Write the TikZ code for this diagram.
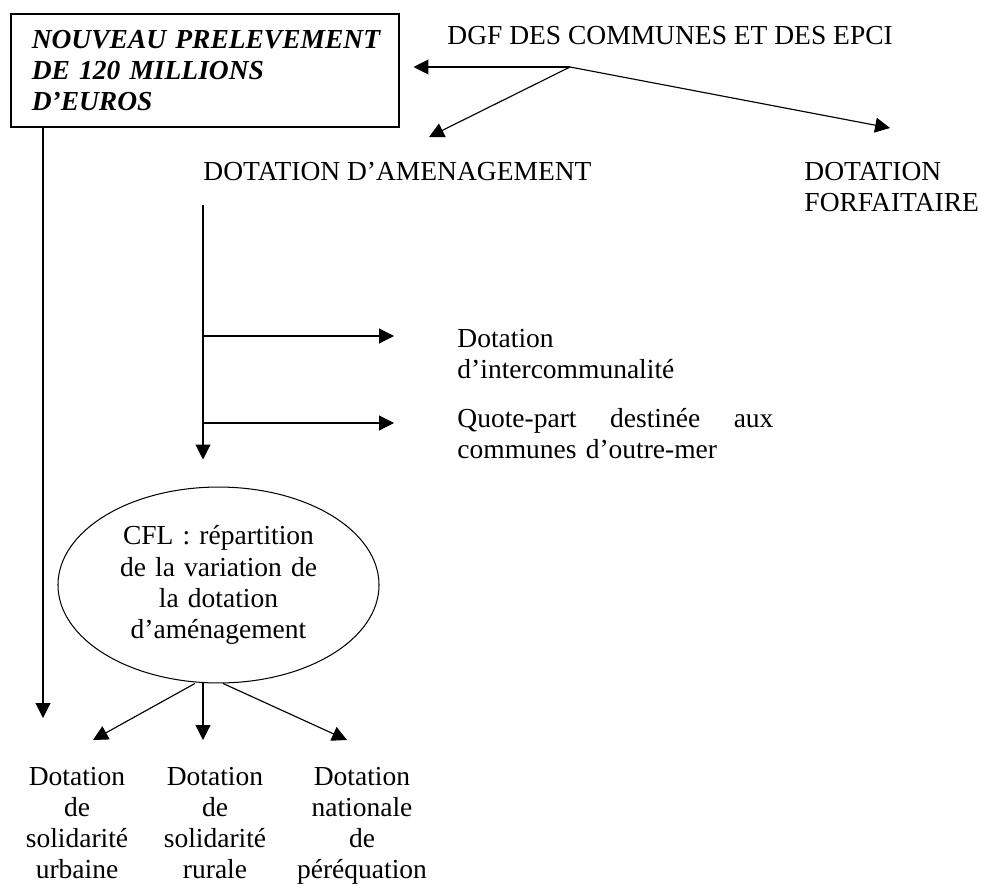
\documentclass[tikz,border=0pt]{standalone}
\usepackage{fontspec}
\setmainfont{Liberation Serif}
\usetikzlibrary{arrows.meta,shapes.geometric}

\newcommand{\bodysize}{\fontsize{12}{13.6}\selectfont}

\tikzstyle{bigbox}=[
    draw,
    line width=0.7pt,
    inner sep=0pt,
    minimum width=169.3pt,
    minimum height=49.3pt,
    text width=151pt,
    align=left,
    font=\bodysize\bfseries\itshape,
  ]
\tikzstyle{txt}=[
    inner sep=0pt,
    anchor=base west,
    font=\bodysize,
  ]
\tikzstyle{coltxt}=[
    inner sep=0pt,
    anchor=base,
    text width=60pt,
    align=center,
    font=\bodysize,
  ]
\tikzstyle{bubble}=[
    draw,
    ellipse,
    line width=0.45pt,
    inner sep=0pt,
    minimum width=140.1pt,
    minimum height=85.5pt,
    text width=90pt,
    align=center,
    font=\bodysize,
  ]
\tikzstyle{flow}=[
    -{Triangle[length=6.5pt,width=6.5pt]},
    line width=0.5pt,
  ]

\begin{document}
\begin{tikzpicture}[x=0.4364pt, y=-0.4364pt]
      \useasboundingbox (0,0) rectangle (984,885);
      \node[bigbox, anchor=north west] (prelev) at (10,13)
        {\mbox{NOUVEAU PRELEVEMENT}\\DE 120 MILLIONS\\D’EUROS};
      \node[txt] (dgf) at (447,45) {DGF DES COMMUNES ET DES EPCI};
      \node[txt] (amenag) at (203,180) {DOTATION D’AMENAGEMENT};
      \node[txt, text width=78pt, align=left] (forfait) at (804,180)
        {DOTATION\\FORFAITAIRE};
      \node[txt, text width=100pt, align=left] (interco) at (457,347)
        {Dotation\\d’intercommunalité};
      \node[txt, text width=137.9pt, align=left] (quote) at (457,427)
        {Quote-part\hfill destinée\hfill aux\\communes d’outre-mer};
      \node[bubble] (cfl) at (218.5,585)
        {CFL : répartition\\de la variation de\\la dotation\\d’aménagement};
      \node[coltxt] (urb) at (77,785) {Dotation\\de\\solidarité\\urbaine};
      \node[coltxt] (rur) at (215,785) {Dotation\\de\\solidarité\\rurale};
      \node[coltxt] (perequ) at (362,785) {Dotation\\nationale\\de\\péréquation};

      % arrow ends
      \coordinate (hub) at (570,67);
      \coordinate (amenag-in) at (429,137);
      \coordinate (forfait-in) at (890,128);
      \coordinate (split) at (203,205);
      \coordinate (interco-in) at (394,336);
      \coordinate (quote-in) at (394,423);
      \coordinate (long-in) at (43,718);
      \coordinate (urb-in) at (93,740);
      \coordinate (rur-in) at (203,740);
      \coordinate (perequ-in) at (347,740);

      \draw[flow, shorten >=6.1pt] (hub) -- (hub -| prelev.east);
      \draw[flow] (hub) -- (amenag-in);
      \draw[flow] (hub) -- (forfait-in);
      \draw[flow, shorten >=11.8pt] (split) -- (split |- cfl.north);
      \draw[flow] (split |- interco-in) -- (interco-in);
      \draw[flow] (split |- quote-in) -- (quote-in);
      \draw[flow] (long-in |- prelev.south) -- (long-in);
      \draw[flow] ([xshift=-10.3pt]cfl.south) -- (urb-in);
      \draw[flow] (split |- cfl.south) -- (rur-in);
      \draw[flow] ([xshift=2pt]cfl.south) -- (perequ-in);
    \end{tikzpicture}
\end{document}
